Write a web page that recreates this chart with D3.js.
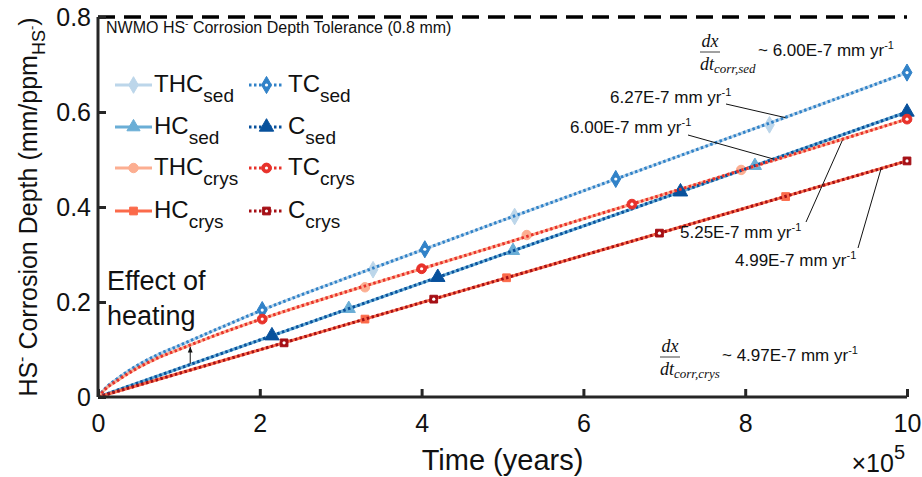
<!DOCTYPE html>
<html>
<head>
<meta charset="utf-8">
<script src="https://cdnjs.cloudflare.com/ajax/libs/d3/7.8.5/d3.min.js"></script>
<style>
body { margin:0; background:#fff; }
text { font-family: "Liberation Sans", Arial, sans-serif; fill:#111; }
.math { font-family: "Liberation Serif", "DejaVu Serif", serif; font-style: italic; }
</style>
</head>
<body>
<div id="chart"></div>
<script>
// ---- data (time in units of 1e5 years, depth in mm/ppm HS-) ----
var xTicks = [0, 2, 4, 6, 8, 10];
var yTicks = [0, 0.2, 0.4, 0.6, 0.8];
var tolerance = 0.8;

var tHeated = [0, 0.1, 0.25, 0.5, 0.75, 1, 1.5, 2, 3, 4, 5, 6, 7, 8, 9, 10];
var thcSed  = [0, 0.02, 0.04, 0.068, 0.09, 0.108, 0.145, 0.181, 0.246, 0.309, 0.372, 0.434, 0.496, 0.558, 0.620, 0.683];
var tcSed   = [0, 0.02, 0.04, 0.068, 0.09, 0.108, 0.145, 0.181, 0.246, 0.309, 0.372, 0.434, 0.496, 0.558, 0.620, 0.683];
var thcCrys = [0, 0.018, 0.036, 0.062, 0.083, 0.1, 0.133, 0.163, 0.218, 0.27, 0.322, 0.375, 0.427, 0.48, 0.532, 0.585];
var tcCrys  = [0, 0.018, 0.036, 0.062, 0.083, 0.1, 0.133, 0.163, 0.218, 0.27, 0.322, 0.375, 0.427, 0.48, 0.532, 0.585];

var tLinear = [0, 10];
var hcSed  = [0, 0.600];
var cSed   = [0, 0.600];
var hcCrys = [0, 0.497];
var cCrys  = [0, 0.497];

// marker positions as plotted
var thcSedMkT  = [3.4, 5.15, 8.3];        var thcSedMkY  = [0.268, 0.38, 0.573];
var tcSedMkT   = [2.03, 4.04, 6.4, 10];   var tcSedMkY   = [0.183, 0.311, 0.459, 0.683];
var hcSedMkT   = [3.1, 5.13, 8.12];       var hcSedMkY   = [0.186, 0.308, 0.487];
var cSedMkT    = [2.15, 4.2, 7.2, 10];    var cSedMkY    = [0.129, 0.252, 0.432, 0.600];
var thcCrysMkT = [3.3, 5.3, 7.95];        var thcCrysMkY = [0.231, 0.341, 0.478];
var tcCrysMkT  = [2.03, 4.0, 6.6, 10];    var tcCrysMkY  = [0.164, 0.27, 0.406, 0.585];
var hcCrysMkT  = [3.3, 5.05, 8.5];        var hcCrysMkY  = [0.164, 0.251, 0.422];
var cCrysMkT   = [2.3, 4.15, 6.94, 10];   var cCrysMkY   = [0.114, 0.206, 0.345, 0.497];

var series = [
    {name:'THC', sub:'sed',  t:tHeated, y:thcSed,  mt:thcSedMkT,  my:thcSedMkY,  color:'#bcd6ea', dash:null,  sym:d3.symbolDiamond,  size:80, dot:false},
    {name:'HC',  sub:'sed',  t:tLinear, y:hcSed,   mt:hcSedMkT,   my:hcSedMkY,   color:'#6aaed6', dash:null,  sym:d3.symbolTriangle, size:75, dot:false},
    {name:'THC', sub:'crys', t:tHeated, y:thcCrys, mt:thcCrysMkT, my:thcCrysMkY, color:'#fcae91', dash:null,  sym:d3.symbolCircle,   size:70, dot:false},
    {name:'HC',  sub:'crys', t:tLinear, y:hcCrys,  mt:hcCrysMkT,  my:hcCrysMkY,  color:'#fb6a4a', dash:null,  sym:d3.symbolSquare,   size:60, dot:false},
    {name:'TC',  sub:'sed',  t:tHeated, y:tcSed,   mt:tcSedMkT,   my:tcSedMkY,   color:'#3182c8', dash:'2.5,2.5', sym:d3.symbolDiamond,  size:85, dot:true},
    {name:'C',   sub:'sed',  t:tLinear, y:cSed,    mt:cSedMkT,    my:cSedMkY,    color:'#08519c', dash:'2.5,2.5', sym:d3.symbolTriangle, size:90, dot:false},
    {name:'TC',  sub:'crys', t:tHeated, y:tcCrys,  mt:tcCrysMkT,  my:tcCrysMkY,  color:'#e8322b', dash:'2.5,2.5', sym:d3.symbolCircle,   size:75, dot:true},
    {name:'C',   sub:'crys', t:tLinear, y:cCrys,   mt:cCrysMkT,   my:cCrysMkY,   color:'#a50f15', dash:'2.5,2.5', sym:d3.symbolSquare,   size:60, dot:true}
];

var W = 922, H = 477;
var svg = d3.select('#chart').append('svg').attr('width', W).attr('height', H);

var x = d3.scaleLinear().domain([0, 10]).range([98, 907]);
var y = d3.scaleLinear().domain([0, 0.8]).range([397, 17]);

// tolerance line
svg.append('line')
    .attr('x1', x(0)).attr('x2', x(10))
    .attr('y1', y(tolerance)).attr('y2', y(tolerance))
    .attr('stroke', '#000').attr('stroke-width', 3.5)
    .attr('stroke-dasharray', '17,9');

svg.append('text').attr('x', 106).attr('y', 33).style('font-size', '16px')
    .html('NWMO HS<tspan dy="-6" font-size="10">-</tspan><tspan dy="6"> Corrosion Depth Tolerance (0.8 mm)</tspan>');

// lines + markers
var line = d3.line().x(function(d) { return x(d[0]); }).y(function(d) { return y(d[1]); }).curve(d3.curveMonotoneX);

function drawMarker(g, s, px, py) {
    g.append('path')
        .attr('d', d3.symbol().type(s.sym).size(s.size)())
        .attr('transform', 'translate(' + px + ',' + py + ')')
        .attr('fill', s.color)
        .attr('stroke', s.color)
        .attr('stroke-width', 1);
    if (s.dot) {
        g.append('circle').attr('cx', px).attr('cy', py).attr('r', 1.6).attr('fill', '#fff');
    }
}

series.forEach(function(s) {
    var g = svg.append('g');
    var pts = s.t.map(function(t, i) { return [t, s.y[i]]; });
    var p = g.append('path').datum(pts)
        .attr('d', line)
        .attr('fill', 'none')
        .attr('stroke', s.color)
        .attr('stroke-width', 3);
    if (s.dash) p.attr('stroke-dasharray', s.dash);
    s.mt.forEach(function(t, i) { drawMarker(g, s, x(t), y(s.my[i])); });
});

// axes (MATLAB style, inward ticks, no box)
var xAxis = svg.append('g').attr('transform', 'translate(0,' + y(0) + ')')
    .call(d3.axisBottom(x).tickValues(xTicks).tickSize(-8).tickPadding(17).tickFormat(d3.format('d')));
var yAxis = svg.append('g').attr('transform', 'translate(' + x(0) + ',0)')
    .call(d3.axisLeft(y).tickValues(yTicks).tickSize(-8).tickPadding(7)
        .tickFormat(function(d) { return d === 0 ? '0' : d3.format('.1f')(d); }));
[xAxis, yAxis].forEach(function(a) {
    a.select('.domain').attr('stroke', '#262626').attr('stroke-width', 3);
    a.selectAll('.tick line').attr('stroke', '#262626').attr('stroke-width', 3);
    a.selectAll('.tick text').style('font-size', '25px').attr('fill', '#111')
        .style('font-family', '"Liberation Sans", Arial, sans-serif');
});
xAxis.selectAll('.tick text').attr('dy', '0.71em');
yAxis.select('.domain').attr('d', 'M0,' + y(0.8) + 'V' + y(0));
xAxis.select('.domain').attr('d', 'M' + x(0) + ',0H' + x(10));

// axis labels
svg.append('text').attr('x', (x(0) + x(10)) / 2).attr('y', 470)
    .attr('text-anchor', 'middle').style('font-size', '29px').text('Time (years)');

svg.append('text').attr('x', 905).attr('y', 472).attr('text-anchor', 'end').style('font-size', '25px')
    .html('×10<tspan dy="-13" font-size="20">5</tspan>');

svg.append('text').attr('transform', 'translate(37,' + y(0.4) + ') rotate(-90)')
    .attr('text-anchor', 'middle').style('font-size', '25px')
    .html('HS<tspan dy="-10" font-size="16">-</tspan><tspan dy="10"> Corrosion Depth (mm/ppm</tspan>' +
          '<tspan dy="8" font-size="18">HS</tspan><tspan dy="-9" font-size="13">-</tspan><tspan dy="1">)</tspan>');

// legend
var legRows = [85, 127, 168, 211];
var legCols = [{x1:115, x2:152, tx:154}, {x1:249, x2:284, tx:288}];
series.forEach(function(s, i) {
    var c = legCols[Math.floor(i / 4)], r = legRows[i % 4];
    var g = svg.append('g');
    var l = g.append('line').attr('x1', c.x1).attr('x2', c.x2).attr('y1', r).attr('y2', r)
        .attr('stroke', s.color).attr('stroke-width', 3);
    if (s.dash) l.attr('stroke-dasharray', s.dash);
    drawMarker(g, s, (c.x1 + c.x2) / 2, r);
    g.append('text').attr('x', c.tx).attr('y', r + 7).style('font-size', '24px')
        .html(s.name + '<tspan dy="10" font-size="19">' + s.sub + '</tspan>');
});

// annotations
function fraction(px, py, sub, rest) {
    var g = svg.append('g');
    g.append('text').attr('class', 'math').attr('x', px + 10).attr('y', py - 5)
        .attr('text-anchor', 'middle').style('font-size', '18px').text('dx');
    g.append('line').attr('x1', px).attr('x2', px + 20).attr('y1', py).attr('y2', py)
        .attr('stroke', '#111').attr('stroke-width', 0.8);
    g.append('text').attr('class', 'math').attr('x', px).attr('y', py + 18)
        .style('font-size', '18px').html('dt<tspan dy="3" font-size="13">' + sub + '</tspan>');
    g.append('text').attr('x', px + (sub.length > 8 ? 62 : 58)).attr('y', py + 4).style('font-size', '17px')
        .html(rest + '<tspan dy="-7" font-size="11">-1</tspan>');
}
fraction(700, 52, 'corr,sed', '~ 6.00E-7 mm yr');
fraction(660, 357, 'corr,crys', '~ 4.97E-7 mm yr');

function rateLabel(tx, ty, txt, from, to) {
    svg.append('text').attr('x', tx).attr('y', ty).style('font-size', '17px')
        .html(txt + '<tspan dy="-7" font-size="11">-1</tspan>');
    svg.append('line').attr('x1', from[0]).attr('y1', from[1]).attr('x2', x(to[0])).attr('y2', y(to[1]))
        .attr('stroke', '#111').attr('stroke-width', 1);
}
rateLabel(610, 103, '6.27E-7 mm yr', [726, 104], [8.5, 0.588]);
rateLabel(570, 133, '6.00E-7 mm yr', [688, 135], [8.35, 0.501]);
rateLabel(680, 238, '5.25E-7 mm yr', [806, 222], [9.2, 0.54]);
rateLabel(735, 266, '4.99E-7 mm yr', [858, 248], [9.68, 0.481]);

// effect of heating
svg.append('text').attr('x', 107).attr('y', 290).style('font-size', '27px').text('Effect of');
svg.append('text').attr('x', 107).attr('y', 325).style('font-size', '27px').text('heating');
svg.append('defs').append('marker').attr('id', 'ah').attr('viewBox', '0 0 10 10')
    .attr('refX', 9).attr('refY', 5).attr('markerWidth', 6).attr('markerHeight', 6).attr('orient', 'auto')
    .append('path').attr('d', 'M0,1L10,5L0,9Z').attr('fill', '#111');
svg.append('line').attr('x1', x(1.14)).attr('x2', x(1.14)).attr('y1', y(0.07)).attr('y2', y(0.105))
    .attr('stroke', '#111').attr('stroke-width', 1).attr('marker-end', 'url(#ah)');
</script>
</body>
</html>
